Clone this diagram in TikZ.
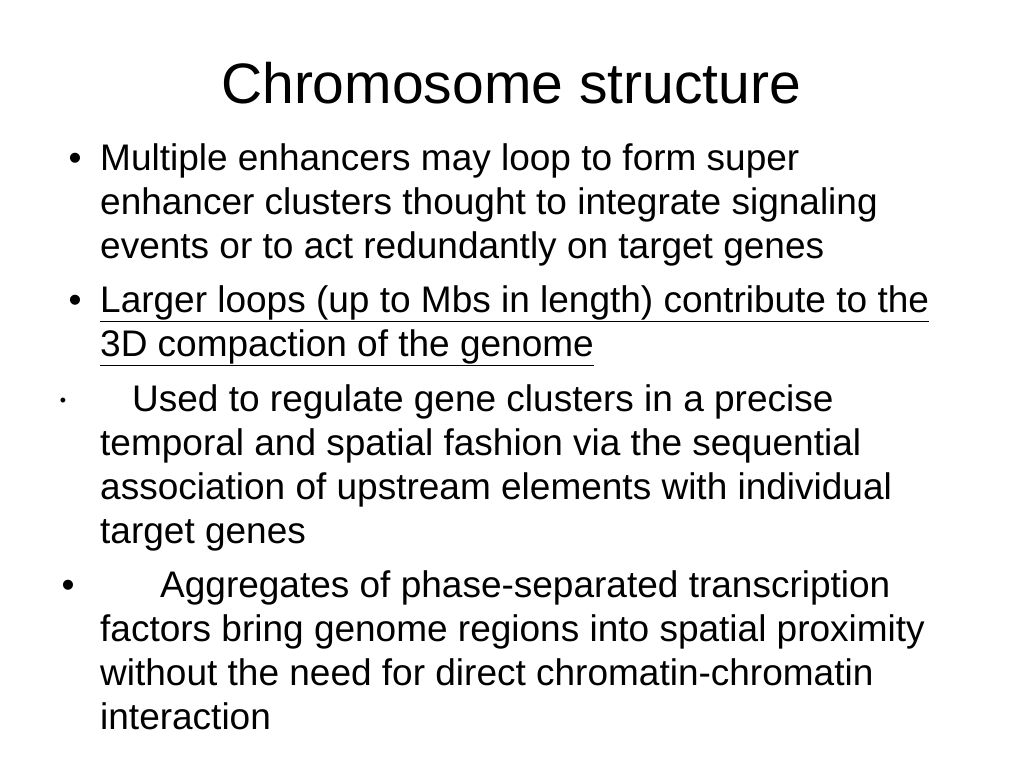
\documentclass[tikz,border=0pt]{standalone}
\usepackage{fontspec}
\setmainfont{Liberation Sans}
\begin{document}
\begin{tikzpicture}[x=1pt,y=1pt,
  body/.style={anchor=base west,inner sep=0pt,font=\fontsize{37}{42}\selectfont},
  bul/.style={anchor=base,inner sep=0pt,font=\fontsize{37}{42}\selectfont}]
\useasboundingbox (0,0) rectangle (1024,-768);
\node[anchor=base,inner sep=0pt,font=\fontsize{57}{64}\selectfont] (title) at (511,-103) {Chromosome structure};
\node[bul] (b1) at (75,-170) {•};
\node[body] (l1) at (100,-170) {Multiple enhancers may loop to form super};
\node[body] (l2) at (100,-214) {enhancer clusters thought to integrate signaling};
\node[body] (l3) at (100,-258) {events or to act redundantly on target genes};
\node[bul] (b2) at (75,-312) {•};
\node[body] (l4) at (100,-312) {\underline{Larger loops (up to Mbs in length) contribute to the}};
\node[body] (l5) at (100,-356) {\underline{3D compaction of the genome}};
\node[anchor=base,inner sep=0pt,font=\fontsize{18}{20}\selectfont] (b3) at (63,-406) {•};
\node[body] (l6) at (132,-411) {Used to regulate gene clusters in a precise};
\node[body] (l7) at (100,-455) {temporal and spatial fashion via the sequential};
\node[body] (l8) at (100,-499) {association of upstream elements with individual};
\node[body] (l9) at (100,-543) {target genes};
\node[bul] (b4) at (68,-597) {•};
\node[body] (l10) at (160,-597) {Aggregates of phase-separated transcription};
\node[body] (l11) at (100,-641) {factors bring genome regions into spatial proximity};
\node[body] (l12) at (100,-685) {without the need for direct chromatin-chromatin};
\node[body] (l13) at (100,-729) {interaction};
\end{tikzpicture}
\end{document}
